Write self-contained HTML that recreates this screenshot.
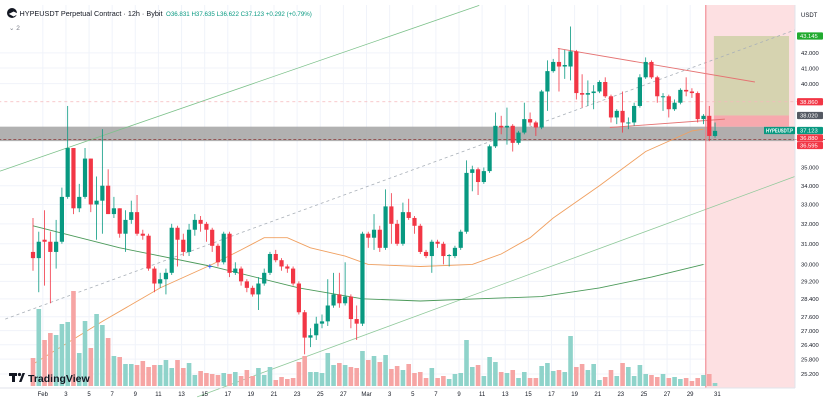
<!DOCTYPE html>
<html><head><meta charset="utf-8">
<style>
html,body{margin:0;padding:0;background:#fff;}
svg{display:block;font-family:"Liberation Sans",sans-serif;}
</style></head>
<body>
<svg id="chart" width="825" height="401" viewBox="0 0 825 401" xmlns="http://www.w3.org/2000/svg">
  <rect x="0" y="0" width="825" height="401" fill="#fff"/>
  <g id="grid"></g>
  <g id="zones"></g>
  <g id="lines"></g>
  <g id="volume"></g>
  <g id="candles"></g>
  <g id="over"></g>
  <g id="axis"></g>
  <g id="xaxis"></g>
  <g>
    <circle cx="12" cy="13" r="5" fill="#131722"/>
    <text x="9" y="15.5" font-size="6" fill="#fff" font-weight="bold">◀▶</text>
    <text x="19.5" y="16" font-size="7.4" fill="#131722" textLength="143" lengthAdjust="spacingAndGlyphs">HYPEUSDT Perpetual Contract · 12h · Bybit</text>
    <text x="166" y="16" font-size="6.2" fill="#089981">O36.831 H37.635 L36.622 C37.123 +0.292 (+0.79%)</text>
    <text x="9" y="30" font-size="6.5" fill="#787b86">⌄ 2</text>
  </g>
  <g>
    <rect x="9" y="373" width="8" height="3" fill="#131722"/>
    <rect x="12" y="373" width="3" height="9" fill="#131722"/>
    <circle cx="19.5" cy="374.5" r="1.6" fill="#131722"/>
    <polygon points="19,382 22.5,373 25,373 21.5,382" fill="#131722"/>
    <text x="28" y="382" font-size="10.5" font-weight="bold" fill="#131722">TradingView</text>
  </g>
</svg>
<script>
const opens=[30.6,30.3,31.2,31.1,30.6,31.1,33.4,36.1,32.8,33.4,35.5,33.0,33.2,34.0,32.5,32.8,31.5,32.2,32.6,31.5,31.4,29.8,29.1,29.3,29.6,31.8,31.2,30.6,31.7,32.2,32.0,31.7,30.9,30.1,31.5,29.6,29.8,29.2,28.9,28.6,29.1,29.6,30.5,30.2,29.9,29.8,29.1,27.8,26.7,26.8,27.3,27.4,28.1,28.6,28.2,28.5,27.5,27.3,31.5,31.3,31.7,30.8,32.9,32.0,31.0,32.6,32.3,31.9,30.6,30.4,31.1,31.0,30.4,30.4,30.8,31.6,34.7,34.9,34.2,34.8,36.2,37.4,37.3,37.4,36.4,37.0,37.8,37.6,37.3,39.5,40.8,41.4,41.1,41.1,42.1,39.4,39.3,39.4,39.5,40.1,39.2,37.9,38.3,37.6,37.6,38.6,40.4,41.4,40.4,39.2,39.2,38.4,38.8,39.6,39.5,39.4,37.8,38.0,36.8];
const highs=[32.3,31.6,32.7,31.6,32.2,33.9,38.6,36.1,34.1,36.1,35.5,34.5,37.2,34.9,33.4,32.8,32.7,33.2,33.5,31.7,31.5,29.9,29.6,29.8,32.0,31.9,31.5,32.0,32.5,32.4,32.1,31.8,31.0,31.6,31.6,30.1,29.9,29.3,29.0,29.4,29.8,30.6,30.7,30.3,30.0,29.9,29.2,27.9,27.1,27.6,27.7,29.3,29.6,29.6,30.1,28.6,28.1,31.6,31.6,32.5,31.9,33.8,33.6,32.2,33.1,33.3,32.4,32.0,30.7,31.2,31.2,31.1,30.5,30.9,31.7,35.4,35.1,35.0,35.0,36.3,38.2,38.0,38.5,37.5,37.1,38.8,38.2,37.7,39.6,41.5,41.6,42.3,42.2,43.8,42.2,40.6,40.2,39.9,40.2,40.4,39.3,38.4,39.5,37.9,38.8,40.6,41.7,41.5,40.5,39.4,39.3,39.0,39.7,40.4,39.7,39.5,38.1,38.6,37.6];
const lows=[29.7,28.7,29.0,28.2,29.8,31.0,33.3,32.5,32.6,33.3,32.6,31.2,31.5,32.5,32.3,31.3,30.6,32.0,31.4,31.2,29.7,28.7,28.9,28.6,29.5,29.9,30.4,30.4,31.4,31.6,31.1,30.6,29.9,30.0,29.4,29.5,29.0,28.7,28.5,27.9,29.0,29.5,30.1,29.7,29.6,29.0,27.7,26.0,26.3,26.6,27.1,27.2,28.0,28.0,28.1,27.1,26.6,27.2,30.8,30.7,30.6,30.7,31.0,30.9,30.9,32.2,31.5,30.5,30.3,29.6,30.8,30.0,29.9,30.3,30.7,31.5,33.7,33.5,34.1,34.7,36.1,36.9,36.3,35.9,36.3,36.9,37.4,36.8,37.2,38.3,40.7,39.5,40.3,40.2,39.0,38.5,38.6,38.4,39.4,39.1,37.6,37.5,37.0,37.2,37.4,38.5,40.3,40.3,38.8,38.3,37.9,38.3,38.7,39.2,39.1,37.6,37.5,36.5,36.7];
const closes=[30.3,31.1,31.1,30.6,31.1,33.4,36.1,32.8,33.4,35.5,33.0,33.2,34.0,32.5,32.8,31.5,32.2,32.6,31.5,31.4,29.8,29.1,29.3,29.6,31.8,31.2,30.6,31.7,32.2,32.0,31.7,30.9,30.1,31.5,29.6,29.8,29.2,28.9,28.6,29.1,29.6,30.5,30.2,29.9,29.8,29.1,27.8,26.7,26.8,27.3,27.4,28.1,28.6,28.2,28.5,27.5,27.3,31.5,31.3,31.7,30.8,32.9,32.0,31.0,32.6,32.3,31.9,30.6,30.4,31.1,31.0,30.4,30.45,30.8,31.6,34.7,34.9,34.2,34.8,36.2,37.4,37.3,37.4,36.4,37.0,37.8,37.6,37.3,39.5,40.8,41.4,41.1,41.2,42.1,39.4,39.3,39.4,39.5,40.1,39.2,37.9,38.3,37.6,37.6,38.6,40.4,41.4,40.4,39.2,39.2,38.4,38.8,39.6,39.5,39.4,37.8,38.0,36.8,37.1];
const volumes=[28,77,46,53,51,62,64,95,33,65,38,72,61,48,30,29,22,22,21,25,19,21,21,26,18,26,18,23,11,15,13,12,11,13,12,14,10,16,10,18,11,19,6,9,7,8,24,30,14,14,13,33,21,23,21,19,18,35,26,30,24,31,17,20,16,22,13,14,8,18,8,10,7,12,13,46,19,21,10,29,24,14,13,16,8,14,8,8,20,23,15,16,14,50,19,22,16,22,6,9,16,10,23,19,10,21,12,11,9,12,8,9,7,8,5,8,11,12,3];
const maSlowIdx=[0,15,31,46,57,67,77,88,98,107,116];
const maSlowVal=[31.9,30.8,29.9,28.9,28.4,28.3,28.4,28.5,28.9,29.4,30.0];
const maFastIdx=[0,12,22,31,36,40,44,48,54,58,67,76,81,86,90,98,106,114,116];
const maFastVal=[25.6,27.4,28.9,30.0,30.7,31.3,31.3,30.8,30.4,30.0,29.9,30.0,30.5,31.3,32.3,34.0,35.9,37.1,37.2];
const tickValues=[42,41,40,35,34,33,32,31,30,29.2,28.4,27.6,27.0,26.4,25.8,25.2];
const dateLabels=["Feb","3","5","7","9","11","13","15","17","19","21","23","25","27","Mar","3","5","7","9","11","13","15","17","19","21","23","25","27","29","31"];
const dateIdx=[1.7,5.7,9.7,13.7,17.7,21.7,25.7,29.7,33.7,37.7,41.7,45.7,49.7,53.7,57.7,61.7,65.7,69.7,73.7,77.7,81.7,85.7,89.7,93.7,97.7,101.7,105.7,109.7,113.7,118.4];

const NS="http://www.w3.org/2000/svg";
const PLOT_R=795, PLOT_B=388;
function xOf(k){return 33+k*5.78;}
function yOf(p){return 36+628.5*Math.log(43.145/p);}
function vOf(v){return 386-v;}
function mk(parent,tag,attrs){const e=document.createElementNS(NS,tag);for(const a in attrs)e.setAttribute(a,attrs[a]);document.getElementById(parent).appendChild(e);return e;}
const GREEN="#089981", RED="#f23645";

dateIdx.forEach((k,i)=>{
  const g=mk('grid','line',{x1:xOf(k),x2:xOf(k),y1:5,y2:PLOT_B,stroke:'#f0f3fa','stroke-width':1});
  
  
  const t=mk('xaxis','text',{x:xOf(k),y:396,'font-size':6,fill:'#131722','text-anchor':'middle'});
  t.textContent=dateLabels[i];
  
  
});
tickValues.forEach(v=>{
  const g=mk('grid','line',{x1:0,x2:PLOT_R,y1:yOf(v),y2:yOf(v),stroke:'#f0f3fa','stroke-width':1});
  
  
  const t=mk('axis','text',{x:801,y:yOf(v)+2.2,'font-size':5.8,fill:'#131722'});
  t.textContent=v.toFixed(3);
  
  
});
const ut=mk('axis','text',{x:801,y:17,'font-size':6,fill:'#131722'});ut.textContent='USDT';


mk('axis','line',{x1:PLOT_R,x2:PLOT_R,y1:5,y2:PLOT_B,stroke:'#e0e3eb'});
mk('xaxis','line',{x1:0,x2:PLOT_R,y1:PLOT_B,y2:PLOT_B,stroke:'#e0e3eb'});

const pz=mk('zones','rect',{x:xOf(116.4),y:5,width:PLOT_R-xOf(116.4),height:PLOT_B-5,fill:'#fde0e2'});


const band=mk('zones','rect',{x:0,y:yOf(37.35),width:PLOT_R,height:yOf(36.5)-yOf(37.35),fill:'#a3a3a3','fill-opacity':0.85});


const ol=mk('zones','rect',{x:xOf(117.8),y:yOf(43.145),width:xOf(130.8)-xOf(117.8),height:yOf(38.02)-yOf(43.145),fill:'#d6d3b0'});


const sb=mk('zones','rect',{x:xOf(117.8),y:yOf(38.02),width:xOf(130.8)-xOf(117.8),height:yOf(37.35)-yOf(38.02),fill:'#f7a9ae'});



function tl(k1,p1,k2,p2,color,dash,w,name){
  const l=mk('lines','line',{x1:xOf(k1),y1:yOf(p1),x2:xOf(k2),y2:yOf(p2),stroke:color,'stroke-width':w||0.8});
  if(dash)l.setAttribute('stroke-dasharray',dash);
  
  
}
tl(-5.7,34.8,77.2,45.3,'#7cc18a',null,0.8,'upper-channel-line');
tl(-4.8,27.5,131.8,43.56,'#a9b0b8','3,3',0.8,'mid-channel-line');
tl(28.4,24.3,131.8,34.5,'#8fc99a',null,0.8,'lower-channel-line');
tl(90.8,42.3,124.9,40.1,'#e57373',null,0.9,'triangle-upper-line');
tl(99.8,37.3,119.7,37.8,'#e57373',null,0.9,'triangle-lower-line');
tl(-6,38.86,137,38.86,'#f5b7bb','3,3',0.8,'resistance-dashed-line');
tl(-6,36.595,137,36.595,'#8b3a3a','3,2',0.8,'support-dashed-line');
const vl=mk('lines','line',{x1:xOf(116.4),x2:xOf(116.4),y1:5,y2:PLOT_B,stroke:'#ef7b84','stroke-width':1});



function maPath(idx,val,color,name){
  let d='';idx.forEach((k,i)=>{d+=(i?'L':'M')+xOf(k).toFixed(1)+','+yOf(val[i]).toFixed(1);});
  const p=mk('lines','path',{d:d,fill:'none',stroke:color,'stroke-width':0.9});
  
  
}
maPath(maSlowIdx,maSlowVal,'#4c9a5a','moving-average-slow');
maPath(maFastIdx,maFastVal,'#f0a060','moving-average-fast');

volumes.forEach((v,k)=>{
  const up=closes[k]>=opens[k];
  const r=mk('volume','rect',{x:xOf(k)-2.3,y:vOf(v),width:4.6,height:v,fill:up?'#8fd3ca':'#f6a5a4'});
  
  
});

opens.forEach((o,k)=>{
  const c=closes[k],up=c>=o,col=up?GREEN:RED,x=xOf(k);
  const w=mk('candles','line',{x1:x,x2:x,y1:yOf(highs[k]),y2:yOf(lows[k]),stroke:col,'stroke-width':0.8});
  
  
  const top=yOf(Math.max(o,c)),bot=yOf(Math.min(o,c));
  const b=mk('candles','rect',{x:x-2.1,y:top,width:4.2,height:Math.max(1,bot-top),fill:col});
  
  
});

const priceTags=[43.145,38.86,38.02,37.123,36.88,36.595];
const tagColors=['#22ab30','#f23645','#555a63','#089981','#f23645','#f23645'];
let lastY=-100;
priceTags.forEach((v,i)=>{
  let y=yOf(v); if(y<lastY+7.5)y=lastY+7.5; lastY=y;
  const r=mk('axis','rect',{x:797,y:y-3.6,width:26,height:7.2,fill:tagColors[i],rx:1});
  
  
  const t=mk('axis','text',{x:800,y:y+2.2,'font-size':5.8,fill:'#fff'});
  t.textContent=v.toFixed(3);
  
  
  if(i===3){
    const r2=mk('axis','rect',{x:764,y:y-3.6,width:31,height:7.2,fill:'#089981'});
    
    
    const t2=mk('axis','text',{x:766,y:y+2.0,'font-size':5,fill:'#fff','font-weight':'bold',textLength:27,lengthAdjust:'spacingAndGlyphs'});
    t2.textContent='HYPEUSDT.P';
    
    
  }
});
const cr=mk('over','text',{x:xOf(30.8)-3.5,y:yOf(29.9)+2.5,'font-size':8,fill:'#2962ff','font-weight':'bold'});
cr.textContent='+';


</script>
</body></html>
